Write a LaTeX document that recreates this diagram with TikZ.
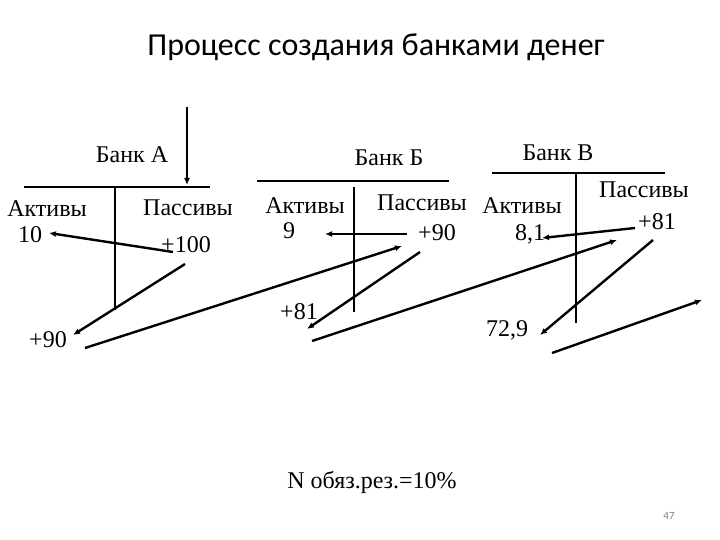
\documentclass[tikz,border=0pt]{standalone}
\usepackage{fontspec}
\setmainfont{Liberation Serif}
\newfontfamily\titlefont{Carlito}
\usetikzlibrary{arrows.meta}
\begin{document}
\begin{tikzpicture}[x=1pt,y=-1pt,
  tline/.style={line width=2.8pt},
  flow/.style={line width=2.4pt,-{Latex[length=7pt,width=6pt]}},
  thinflow/.style={line width=1.5pt,-{Latex[length=7pt,width=6pt]}},
  lbl/.style={inner sep=0pt,font=\fontsize{24}{26}\selectfont}]
\useasboundingbox (0,0) rectangle (720,540);
\fill[white] (0,0) rectangle (720,540);
% titles
\node[inner sep=0pt,font=\titlefont\fontsize{32}{36}\selectfont] (title) at (376,47) {Процесс создания банками денег};
\node[lbl] (note) at (372,482) {N обяз.рез.=10\%};
\node[inner sep=0pt,text=gray,font=\titlefont\fontsize{11}{13}\selectfont] (page) at (669,516) {47};
% Bank A
\node[lbl] (bankA) at (132,155) {Банк А};
\node[lbl] (aktA) at (47,209) {Активы};
\node[lbl] (tenA) at (30,235) {10};
\node[lbl] (pasA) at (188,208) {Пассивы};
\node[lbl] (hundA) at (186,245) {+100};
\node[lbl] (ninetyA) at (48,340) {+90};
% Bank B
\node[lbl] (bankB) at (389,158) {Банк Б};
\node[lbl] (aktB) at (305,206) {Активы};
\node[lbl] (nineB) at (289,231) {9};
\node[lbl] (pasB) at (422,203) {Пассивы};
\node[lbl] (ninetyB) at (437,233) {+90};
\node[lbl] (eightyoneB) at (299,312) {+81};
% Bank V
\node[lbl] (bankV) at (558,153) {Банк В};
\node[lbl] (aktV) at (522,206) {Активы};
\node[lbl] (eightV) at (530,234) {8,1};
\node[lbl] (pasV) at (644,190) {Пассивы};
\node[lbl] (eightyoneV) at (657,222) {+81};
\node[lbl] (seventyV) at (507,330) {72,9};
% T-accounts
\coordinate (hAl) at (24,187); \coordinate (hAr) at (210,187);
\coordinate (vAt) at (115,187); \coordinate (vAb) at (115,310);
\coordinate (hBl) at (257,181); \coordinate (hBr) at (449,181);
\coordinate (vBt) at (354,187); \coordinate (vBb) at (354,312);
\coordinate (hVl) at (492,173); \coordinate (hVr) at (665,173);
\coordinate (vVt) at (576,173); \coordinate (vVb) at (576,323);
\draw[tline] (hAl) -- (hAr);
\draw[tline] (vAt) -- (vAb);
\draw[tline] (hBl) -- (hBr);
\draw[tline] (vBt) -- (vBb);
\draw[tline] (hVl) -- (hVr);
\draw[tline] (vVt) -- (vVb);
% arrow endpoints
\coordinate (inS) at (187,107); \coordinate (inE) at (187,185);
\coordinate (a1s) at (173,252); \coordinate (a1e) at (49,233);
\coordinate (a2s) at (185,264); \coordinate (a2e) at (73,335);
\coordinate (a3s) at (85,348);  \coordinate (a3e) at (402,246);
\coordinate (b1s) at (407,234); \coordinate (b1e) at (325,234);
\coordinate (b2s) at (420,252); \coordinate (b2e) at (307,329);
\coordinate (b3s) at (312,341); \coordinate (b3e) at (617,240);
\coordinate (c1s) at (635,228); \coordinate (c1e) at (542,238);
\coordinate (c2s) at (653,240); \coordinate (c2e) at (540,335);
\coordinate (c3s) at (552,353); \coordinate (c3e) at (702,300);
\draw[flow] (inS) -- (inE);
\draw[flow] (a1s) -- (a1e);
\draw[flow] (a2s) -- (a2e);
\draw[flow] (a3s) -- (a3e);
\draw[thinflow] (b1s) -- (b1e);
\draw[flow] (b2s) -- (b2e);
\draw[flow] (b3s) -- (b3e);
\draw[flow] (c1s) -- (c1e);
\draw[flow] (c2s) -- (c2e);
\draw[flow] (c3s) -- (c3e);
\end{tikzpicture}
\end{document}
